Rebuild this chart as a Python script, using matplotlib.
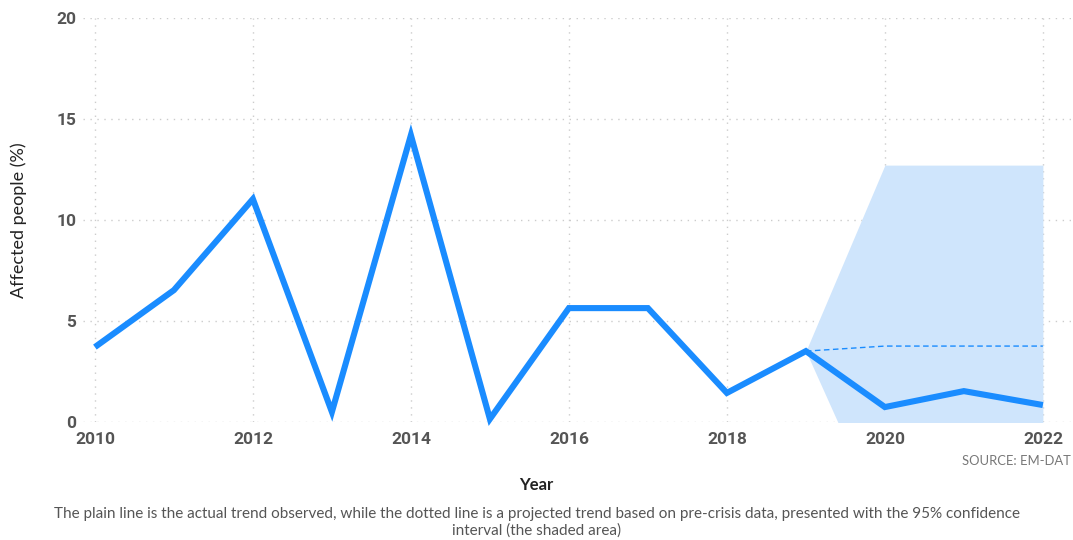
import matplotlib
matplotlib.use("Agg")
import matplotlib.pyplot as plt

# Observed share of affected people per year
years = [2010, 2011, 2012, 2013, 2014, 2015, 2016, 2017, 2018, 2019, 2020, 2021, 2022]
affected = [3.71, 6.53, 11.04, 0.5, 14.2, 0.15, 5.64, 5.64, 1.44, 3.51, 0.74, 1.53, 0.84]

# Projection from pre-crisis data with 95% confidence interval
proj_years = [2019, 2020, 2021, 2022]
proj_mean = [3.51, 3.76, 3.76, 3.76]
proj_low = [3.51, -5.2, -5.2, -5.2]
proj_high = [3.51, 12.72, 12.72, 12.72]

blue = "#1a8cff"
tick_grey = "#555555"

fig = plt.figure(figsize=(10.73, 5.40), dpi=100)
ax = fig.add_axes([0.0774, 0.2185, 0.9203, 0.748])

ax.fill_between(proj_years, proj_low, proj_high, color="#cfe5fc", linewidth=0, zorder=1)
ax.plot(proj_years, proj_mean, color=blue, linewidth=1.0, linestyle=(0, (4, 2.5)), zorder=2)
ax.plot(years, affected, color=blue, linewidth=4.4, solid_joinstyle="miter",
        solid_capstyle="butt", zorder=3, clip_on=False)

ax.set_xlim(2009.85, 2022.35)
ax.set_ylim(0, 20)
ax.set_xticks(range(2010, 2023, 2))
ax.set_yticks([0, 5, 10, 15, 20])

ax.grid(True, color="#cccccc", linestyle=(0, (1, 4)), linewidth=1.0)
ax.set_axisbelow(True)
for s in ax.spines.values():
    s.set_visible(False)
ax.tick_params(length=0, colors=tick_grey)
ax.tick_params(axis="y", pad=5)
ax.tick_params(axis="x", pad=7)
for lab in ax.get_xticklabels() + ax.get_yticklabels():
    lab.set_fontfamily("Roboto")
    lab.set_fontweight("bold")
    lab.set_fontsize(12.5)
    lab.set_color(tick_grey)

ax.set_ylabel("Affected people (%)", fontsize=13, fontfamily="Lato", color="#222222", labelpad=21)
fig.text(0.5, 0.102, "Year", ha="center", va="center", fontsize=12,
         fontfamily="Lato", fontweight="bold", color="#222222")
fig.text(0.998, 0.147, "SOURCE: EM-DAT", ha="right", va="center", fontsize=9.4,
         fontfamily="Lato", color="#777777")
fig.text(0.5, 0.032,
         "The plain line is the actual trend observed, while the dotted line is a projected trend based on pre-crisis data, presented with the 95% confidence\ninterval (the shaded area)",
         ha="center", va="center", fontsize=10.95, fontfamily="Lato", color="#555555",
         linespacing=1.2)

fig.savefig("out.png", dpi=100)
